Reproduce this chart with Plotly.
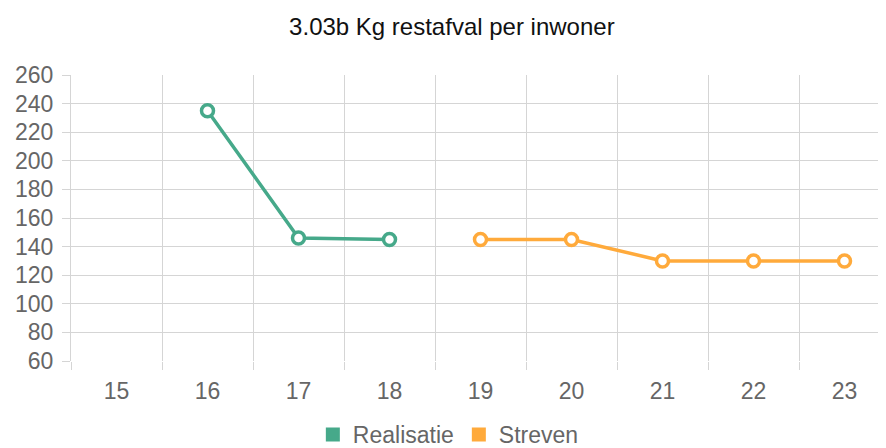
import plotly.graph_objects as go

jaren = ["15", "16", "17", "18", "19", "20", "21", "22", "23"]
realisatie = [None, 235, 146, 145, None, None, None, None, None]
streven = [None, None, None, None, 145, 145, 130, 130, 130]

groen = "#46A98A"
oranje = "#FFAA3B"

fig = go.Figure()
fig.add_trace(go.Scatter(
    x=jaren, y=realisatie, mode="lines+markers", name="Realisatie",
    line=dict(color=groen, width=3.5),
    marker=dict(symbol="circle", size=12, color="white", line=dict(color=groen, width=3.5)),
    showlegend=False, connectgaps=False
))
fig.add_trace(go.Scatter(
    x=jaren, y=streven, mode="lines+markers", name="Streven",
    line=dict(color=oranje, width=3.5),
    marker=dict(symbol="circle", size=12, color="white", line=dict(color=oranje, width=3.5)),
    showlegend=False, connectgaps=False
))
# legend entries as squares
for naam, kleur in [("Realisatie", groen), ("Streven", oranje)]:
    fig.add_trace(go.Scatter(
        x=[None], y=[None], mode="markers", name=naam,
        marker=dict(symbol="square", size=14, color=kleur)
    ))

# page has an 8px body margin, so figure coords are offset by 8
fig.update_layout(
    width=886, height=448,
    margin=dict(l=63, r=8, t=67, b=95),
    paper_bgcolor="white", plot_bgcolor="white",
    font=dict(family="Liberation Sans, Arial, sans-serif", color="#666666"),
    title=dict(text="3.03b Kg restafval per inwoner", x=0.501, xref="container",
               xanchor="center", y=0.958, yref="container", yanchor="middle",
               font=dict(size=24, color="#111111")),
    showlegend=True,
    legend=dict(orientation="h", x=0.497, xref="container", xanchor="center",
                y=0.048, yref="container", yanchor="middle",
                font=dict(size=23, color="#666666"), itemwidth=30, tracegroupgap=0),
    xaxis=dict(
        type="category", range=[-0.5, 8.456], tickson="boundaries", automargin=False,
        showgrid=True, gridcolor="#D5D5D5", gridwidth=1,
        ticks="outside", ticklen=8, tickcolor="#D5D5D5",
        showline=False, zeroline=False, ticklabelstandoff=14,
        tickfont=dict(size=23, color="#666666"),
    ),
    yaxis=dict(
        range=[60, 260], dtick=20, tick0=60, automargin=False,
        showgrid=True, gridcolor="#D5D5D5", gridwidth=1,
        ticks="outside", ticklen=8, tickcolor="#D5D5D5",
        showline=True, linecolor="#D5D5D5", zeroline=False, ticklabelstandoff=4,
        tickfont=dict(size=23, color="#666666"),
    ),
)

fig.write_html("out.html")
